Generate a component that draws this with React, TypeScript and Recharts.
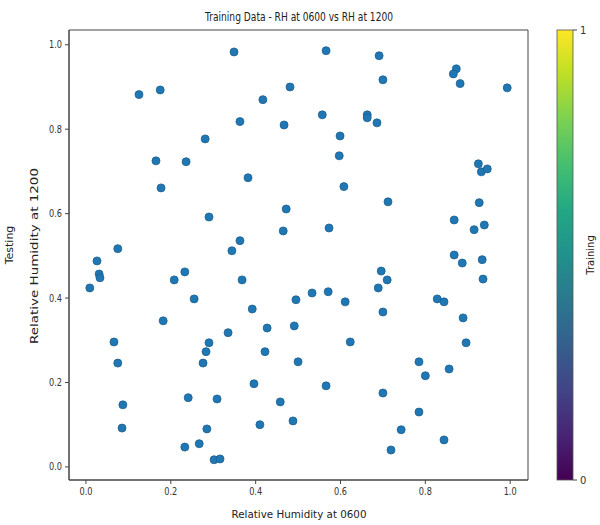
import React from 'react';
import { ScatterChart, Scatter, XAxis, YAxis, ReferenceArea } from 'recharts';

// RH at 0600 (x) and RH at 1200 (y)
const rh0600 = [
  0.349, 0.481, 0.125, 0.175, 0.417, 0.363, 0.467, 0.281, 0.165, 0.236,
  0.382, 0.177, 0.472, 0.29, 0.465, 0.363, 0.075, 0.344, 0.566, 0.691,
  0.873, 0.866, 0.882, 0.993, 0.7, 0.557, 0.663, 0.663, 0.686, 0.599,
  0.597, 0.608, 0.712, 0.925, 0.932, 0.946, 0.927, 0.868, 0.915, 0.939,
  0.573, 0.026, 0.031, 0.033, 0.009, 0.208, 0.233, 0.368, 0.255, 0.392,
  0.495, 0.491, 0.427, 0.182, 0.335, 0.29, 0.283, 0.276, 0.422, 0.5,
  0.066, 0.075, 0.396, 0.087, 0.085, 0.241, 0.309, 0.458, 0.41, 0.488,
  0.285, 0.233, 0.267, 0.302, 0.316, 0.868, 0.887, 0.934, 0.936, 0.696,
  0.71, 0.689, 0.7, 0.828, 0.844, 0.889, 0.896, 0.533, 0.571, 0.611,
  0.623, 0.566, 0.785, 0.8, 0.856, 0.7, 0.785, 0.743, 0.844, 0.719,
];
const rh1200 = [
  0.983, 0.9, 0.882, 0.893, 0.87, 0.818, 0.81, 0.777, 0.725, 0.723,
  0.685, 0.661, 0.611, 0.592, 0.559, 0.536, 0.517, 0.512, 0.986, 0.974,
  0.943, 0.931, 0.908, 0.898, 0.917, 0.834, 0.834, 0.827, 0.815, 0.784,
  0.737, 0.664, 0.628, 0.718, 0.699, 0.706, 0.626, 0.585, 0.562, 0.573,
  0.566, 0.488, 0.457, 0.448, 0.424, 0.443, 0.462, 0.443, 0.398, 0.374,
  0.396, 0.334, 0.329, 0.346, 0.318, 0.294, 0.273, 0.246, 0.273, 0.249,
  0.296, 0.246, 0.197, 0.147, 0.092, 0.164, 0.161, 0.154, 0.1, 0.109,
  0.09, 0.047, 0.055, 0.017, 0.019, 0.502, 0.483, 0.491, 0.445, 0.464,
  0.443, 0.424, 0.367, 0.398, 0.391, 0.353, 0.294, 0.412, 0.415, 0.391,
  0.296, 0.192, 0.249, 0.216, 0.232, 0.175, 0.13, 0.088, 0.064, 0.04,
];
const axisTicks = [0, 0.2, 0.4, 0.6, 0.8, 1.0];
const colorbarTicks = ['1', '0'];
const viridis = [
  '#440154', '#482475', '#414487', '#355f8d', '#2a788e', '#21918c',
  '#22a884', '#44bf70', '#7ad151', '#bddf26', '#fde725',
];

const xDomain = [-0.04, 1.042];
const yDomain = [-0.031, 1.035];
const font = '"DejaVu Sans", sans-serif';

const points = rh0600.map((x, i) => ({ x, y: rh1200[i] }));

const Dot = (props: any) => (
  <circle cx={props.cx} cy={props.cy} r={4} fill="#1f77b4" stroke="#1d5f8f" strokeWidth={0.8} />
);

// narrow tick text, the source picture is squeezed horizontally
const XTick = (props: any) => (
  <text x={props.x} y={props.y} dy="0.71em" textAnchor="middle" fontSize={10} fill="#333" fontFamily={font}
    textLength={13} lengthAdjust="spacingAndGlyphs">
    {Number(props.payload.value).toFixed(1)}
  </text>
);
const YTick = (props: any) => (
  <text x={props.x} y={props.y} dy="0.355em" textAnchor="end" fontSize={10} fill="#333" fontFamily={font}
    textLength={13} lengthAdjust="spacingAndGlyphs">
    {Number(props.payload.value).toFixed(1)}
  </text>
);

export default function App() {
  const cbTop = 30;
  const cbBottom = 480;
  return (
    <div style={{ position: 'absolute', left: 0, top: 0, width: 600, height: 525, background: '#fff' }}>
      <ScatterChart width={600} height={525} margin={{ top: 30, right: 72, bottom: 15, left: 29 }}>
        <XAxis
          type="number"
          dataKey="x"
          domain={xDomain}
          allowDataOverflow
          ticks={axisTicks}
          height={30}
          tickSize={4}
          tickMargin={4}
          stroke="#444"
          tick={<XTick />}
        />
        <YAxis
          type="number"
          dataKey="y"
          domain={yDomain}
          allowDataOverflow
          ticks={axisTicks}
          width={40}
          tickSize={4}
          tickMargin={3}
          stroke="#444"
          tick={<YTick />}
        />
        <ReferenceArea
          x1={xDomain[0]}
          x2={xDomain[1]}
          y1={yDomain[0]}
          y2={yDomain[1]}
          fill="none"
          stroke="#444"
          strokeWidth={1}
        />
        <Scatter data={points} shape={Dot} isAnimationActive={false} />
      </ScatterChart>

      <svg width={600} height={525} style={{ position: 'absolute', left: 0, top: 0, pointerEvents: 'none' }}>
        <defs>
          <linearGradient id="viridis" x1="0" y1="1" x2="0" y2="0">
            {viridis.map((c, i) => (
              <stop key={c} offset={i / (viridis.length - 1)} stopColor={c} />
            ))}
          </linearGradient>
        </defs>
        <text x={299} y={21} textAnchor="middle" fontSize={12} fill="#222" fontFamily={font}
          textLength={188} lengthAdjust="spacingAndGlyphs">
          Training Data - RH at 0600 vs RH at 1200
        </text>
        <text x={299} y={518} textAnchor="middle" fontSize={11} fill="#222" fontFamily={font}
          textLength={135} lengthAdjust="spacingAndGlyphs">
          Relative Humidity at 0600
        </text>
        <text transform="translate(38,256) rotate(-90)" textAnchor="middle" fontSize={11} fill="#222" fontFamily={font}
          textLength={176} lengthAdjust="spacingAndGlyphs">
          Relative Humidity at 1200
        </text>
        <text transform="translate(13,245) rotate(-90)" textAnchor="middle" fontSize={11} fill="#222" fontFamily={font}>
          Testing
        </text>

        <rect x={557} y={cbTop} width={16} height={cbBottom - cbTop} fill="url(#viridis)" stroke="#555" strokeWidth={0.8} />
        {colorbarTicks.map((t, i) => {
          const y = i === 0 ? cbTop : cbBottom;
          return (
            <g key={t}>
              <line x1={573} x2={577} y1={y} y2={y} stroke="#444" />
              <text x={580} y={y + 3.5} fontSize={10} fill="#333" fontFamily={font}>{t}</text>
            </g>
          );
        })}
        <text transform="translate(594,255) rotate(-90)" textAnchor="middle" fontSize={10} fill="#222" fontFamily={font}>
          Training
        </text>
      </svg>
    </div>
  );
}
